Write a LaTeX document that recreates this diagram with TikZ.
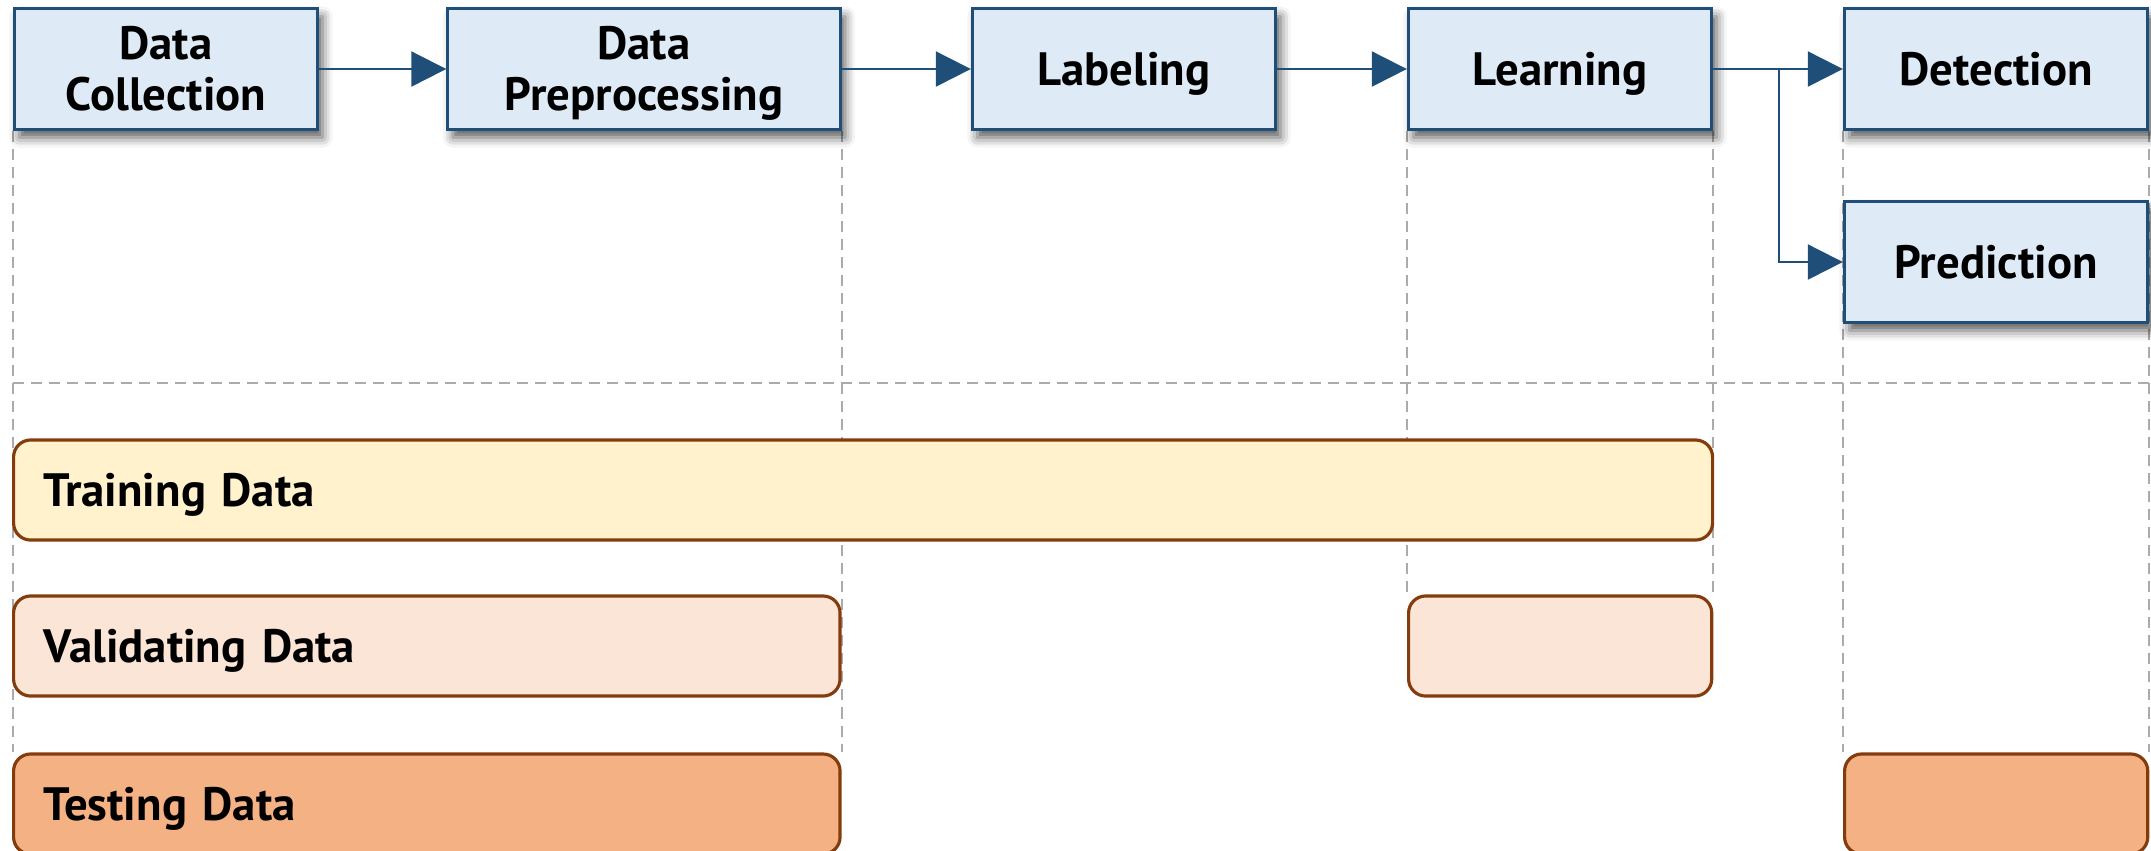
\documentclass[tikz,border=0pt]{standalone}
\usepackage{fontspec}
\setmainfont{PT Sans}
\usetikzlibrary{positioning,arrows.meta,shadows.blur,backgrounds}

\definecolor{stepfill}{HTML}{DEEBF7}
\definecolor{stepline}{HTML}{1F4E79}
\definecolor{barline}{HTML}{843C0C}
\definecolor{trainfill}{HTML}{FFF2CC}
\definecolor{validfill}{HTML}{FBE5D6}
\definecolor{testfill}{HTML}{F4B183}
\definecolor{guidegray}{HTML}{ABABAB}

\begin{document}
\begin{tikzpicture}[x=0.01cm, y=-0.01cm,
  font=\bfseries\fontsize{13.3}{14.5}\selectfont,
  stepbox/.style={draw=stepline, fill=stepfill, line width=0.9pt,
    minimum width=3.03cm, minimum height=1.21cm, align=center, inner sep=0pt,
    text height=9.2pt, text depth=0pt,
    blur shadow={shadow xshift=0.05cm, shadow yshift=-0.08cm,
      shadow blur radius=0.1cm, shadow opacity=65}},
  twolines/.style={text height=23.7pt},
  flow/.style={color=stepline, line width=0.6pt,
    -{Triangle[length=0.35cm, width=0.35cm]}},
  bar/.style={draw=barline, line width=0.9pt, rounded corners=0.17cm,
    minimum height=1.0cm, inner xsep=0.3cm, anchor=west, align=left,
    text height=9.2pt, text depth=0pt},
  guide/.style={draw=guidegray, line width=0.6pt,
    dash pattern=on 0.11cm off 0.07cm}]
  \useasboundingbox (0,0) rectangle (2151,850);

  % pipeline steps
  \node[stepbox, twolines] (collect) at (166,69) {Data\\Collection};
  \node[stepbox, twolines, minimum width=3.92cm] (prep) at (644,69) {Data\\Preprocessing};
  \node[stepbox] (label) at (1124,69) {Labeling};
  \node[stepbox] (learn) at (1560,69) {Learning};
  \node[stepbox] (detect) at (1996,69) {Detection};
  \node[stepbox] (predict) at (1996,262) {Prediction};

  \draw[flow] (collect) -- (prep);
  \draw[flow] (prep) -- (label);
  \draw[flow] (label) -- (learn);
  \draw[flow] (learn) -- (detect);
  \coordinate (fork) at (1779,69);
  \draw[flow] (fork) |- (predict);

  % data splits
  \node[bar, fill=trainfill, text width=16.38cm] (train) at (12,490) {Training Data};
  \node[bar, fill=validfill, text width=7.66cm] (valid) at (12,646) {Validating Data};
  \node[bar, fill=validfill, text width=2.43cm] (validb) at (1407,646) {};
  \node[bar, fill=testfill, text width=7.66cm] (test) at (12,804) {Testing Data};
  \node[bar, fill=testfill, text width=2.43cm] (testb) at (1843,804) {};

  % guide lines
  \begin{scope}[on background layer]
    \coordinate (split) at (0,383);
    \draw[guide] (collect.west |- split) -- (detect.east |- split);
    \draw[guide] (collect.south west) -- (collect.south west |- test.north);
    \draw[guide] (prep.south east) -- (prep.south east |- test.north);
    \draw[guide] (learn.south west) -- (learn.south west |- validb.north);
    \draw[guide] (learn.south east) -- (learn.south east |- validb.north);
    \draw[guide] (detect.south west) -- (detect.south west |- testb.north);
    \draw[guide] (detect.south east) -- (detect.south east |- testb.north);
  \end{scope}
\end{tikzpicture}
\end{document}
